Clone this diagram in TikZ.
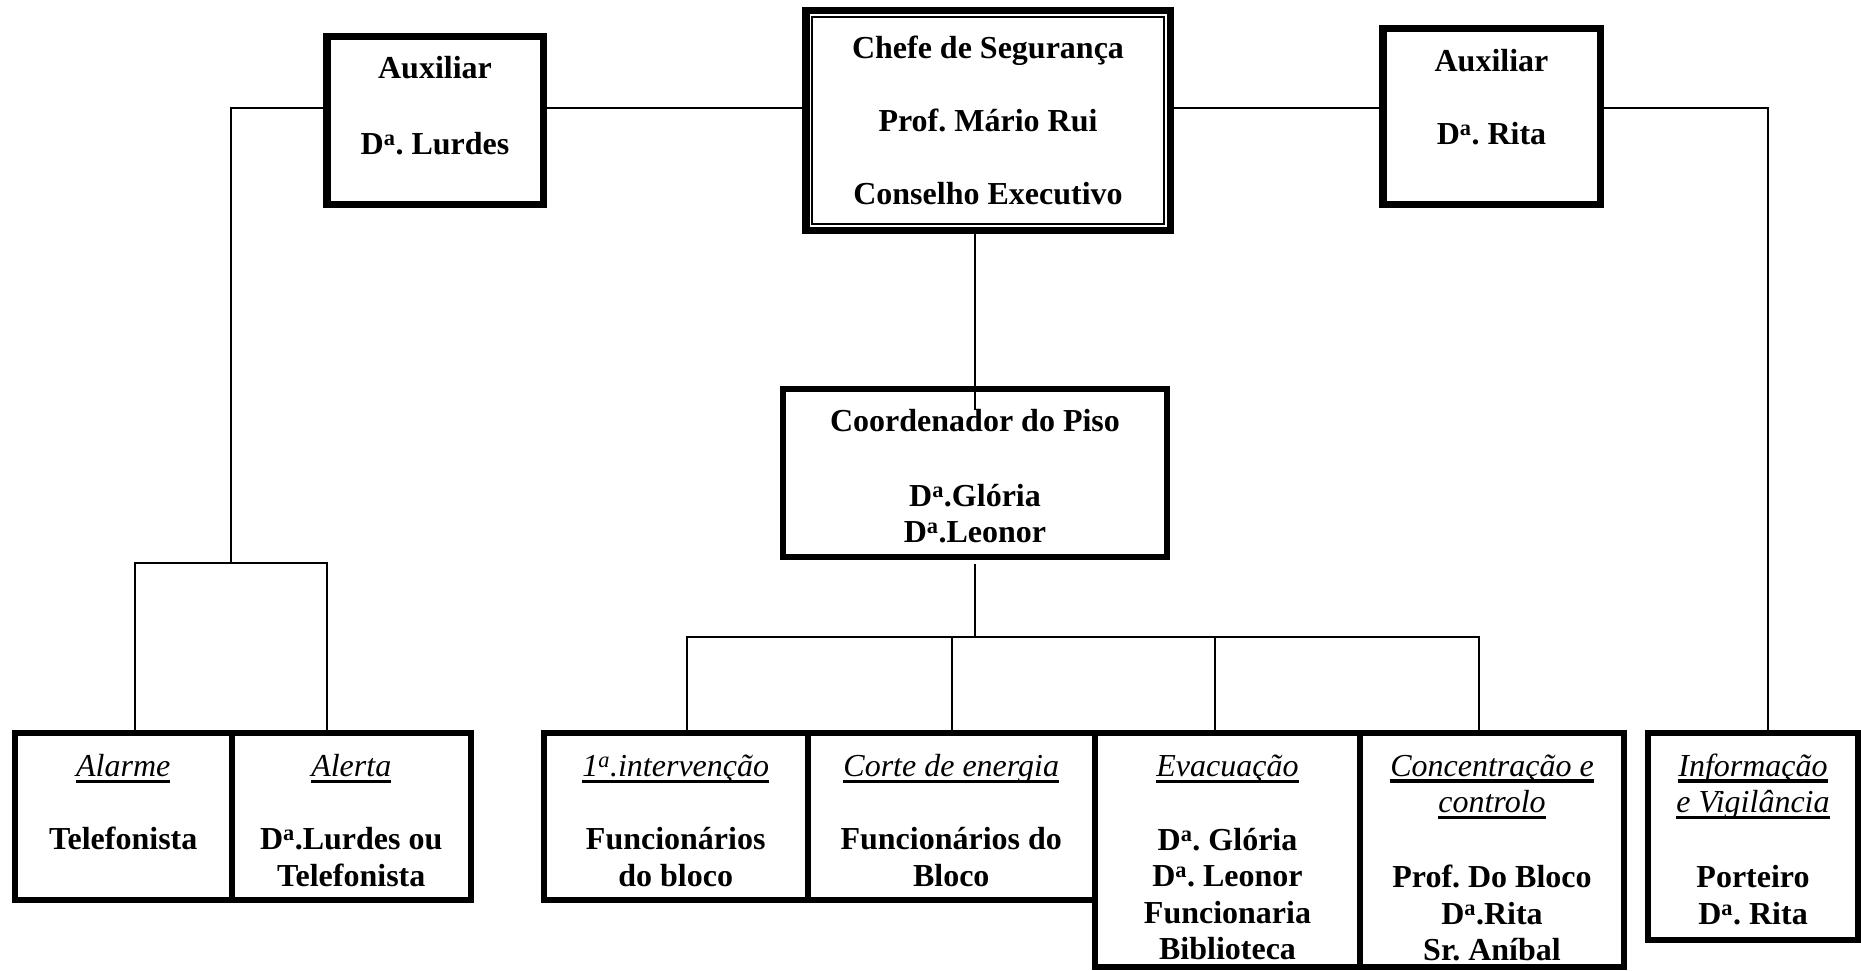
\documentclass[tikz,border=0pt]{standalone}
\usepackage{fontspec}
\setmainfont{Liberation Serif}
\frenchspacing

% superscript ordinal "a"
\newcommand{\Dna}{D\textsuperscript{a}}
% heading: italic, underlined by a rule just below the baseline
\newcommand{\ulx}[1]{\setbox0\hbox{#1}\rlap{\rule[-6.5pt]{\wd0}{3.5pt}}\box0}
\newcommand{\hdg}[1]{\ulx{\normalfont\itshape #1}}

\tikzset{
  conn/.style={line width=1.8pt},
  topbox/.style={draw, line width=7.5pt, inner sep=0pt, fill=white},
  unitbox/.style={draw, line width=6pt, inner sep=0pt},
  txt/.style={anchor=north, align=center, inner sep=0pt,
    font=\fontsize{32}{36.5}\selectfont\bfseries},
}

\begin{document}
\begin{tikzpicture}[x=1pt, y=-1pt]
\useasboundingbox[fill=white] (0,0) rectangle (1861,971);

% --- top row ---
\node[topbox, minimum width=216.5, minimum height=167.5] (lurdes) at (435,120.5) {};
\node[topbox, minimum width=364.5, minimum height=219.5] (chefe) at (988,120.5) {};
\draw[line width=1.5pt] ([shift={(10,10)}]chefe.north west) rectangle ([shift={(-10,-10)}]chefe.south east);
\node[topbox, minimum width=217.5, minimum height=175.5] (rita) at (1491.5,116.5) {};

\node[txt] (lurdes-t) at (435,53) {\strut Auxiliar\\[39.5pt]\strut \Dna. Lurdes};
\node[txt] (chefe-t) at (988,33) {\strut Chefe de Segurança\\[36.5pt]\strut Prof. Mário Rui\\[36.5pt]\strut Conselho Executivo};
\node[txt] (rita-t) at (1491.5,46) {\strut Auxiliar\\[36pt]\strut \Dna. Rita};

% --- floor coordinator ---
\node[unitbox, minimum width=384, minimum height=168] (coord) at (975,473) {};
\node[txt] (coord-t) at (975,405.5) {\strut Coordenador do Piso\\[38.5pt]\strut \Dna.Glória\\\strut \Dna.Leonor};

% --- bottom row ---
\node[unitbox, minimum width=216.5, minimum height=167] (alarme) at (123.25,816.5) {};
\node[unitbox, minimum width=239.5, minimum height=167] (alerta) at (351.25,816.5) {};
\node[unitbox, minimum width=263.5, minimum height=167] (prim) at (675.75,816.5) {};
\node[unitbox, minimum width=287.5, minimum height=167] (corte) at (951.25,816.5) {};
\node[unitbox, minimum width=265, minimum height=234] (evac) at (1227.5,850) {};
\node[unitbox, minimum width=264, minimum height=234] (conc) at (1492,850) {};
\node[unitbox, minimum width=210, minimum height=207] (info) at (1753,836.5) {};

\node[txt] (alarme-t) at (123.25,751) {\strut\hdg{Alarme}\\[36.5pt]\strut Telefonista};
\node[txt] (alerta-t) at (351.25,751) {\strut\hdg{Alerta}\\[36.5pt]\strut \Dna.Lurdes ou\\\strut Telefonista};
\node[txt] (prim-t) at (675.75,751) {\strut\hdg{1\textsuperscript{a}.intervenção}\\[36.5pt]\strut Funcionários\\\strut do bloco};
\node[txt] (corte-t) at (951.25,751) {\strut\hdg{Corte de energia}\\[36.5pt]\strut Funcionários do\\\strut Bloco};
\node[txt] (evac-t) at (1227.5,751) {\strut\hdg{Evacuação}\\[37pt]\strut \Dna. Glória\\\strut \Dna. Leonor\\\strut Funcionaria\\\strut Biblioteca};
\node[txt] (conc-t) at (1492,750.5) {\strut\hdg{Concentração e}\\\strut\hdg{controlo}\\[38.5pt]\strut Prof. Do Bloco\\\strut \Dna.Rita\\\strut Sr. Aníbal};
\node[txt] (info-t) at (1753,750.5) {\strut\hdg{Informação}\\\strut\hdg{e Vigilância}\\[38.5pt]\strut Porteiro\\\strut \Dna. Rita};

% --- junction points ---
\coordinate (ltop) at (231,108);
\coordinate (lmid) at (231,563);
\coordinate (la) at (135,563);
\coordinate (lb) at (327,563);
\coordinate (rtop) at (1768,108);
\coordinate (cend) at (975,410);
\coordinate (cbus) at (975,637);
\coordinate (b1) at (687,637);
\coordinate (b2) at (952,637);
\coordinate (b3) at (1215,637);
\coordinate (b4) at (1479,637);

% --- connectors ---
\draw[conn] (lurdes.west |- ltop) -- (ltop) -- (lmid);
\draw[conn] (la |- alarme.north) -- (la) -- (lb) -- (lb |- alerta.north);
\draw[conn] (lurdes.east |- ltop) -- (chefe.west |- ltop);
\draw[conn] (chefe.east |- ltop) -- (rita.west |- ltop);
\draw[conn] (rita.east |- rtop) -- (rtop) -- (rtop |- info.north);
\draw[conn] (cend |- chefe.south) -- (cend);
\draw[conn] ([yshift=-4pt]coord.south) -- (cbus);
\draw[conn] (b1 |- prim.north) -- (b1) -- (b4) -- (b4 |- conc.north);
\draw[conn] (b2) -- (b2 |- corte.north);
\draw[conn] (b3) -- (b3 |- evac.north);
\end{tikzpicture}
\end{document}
